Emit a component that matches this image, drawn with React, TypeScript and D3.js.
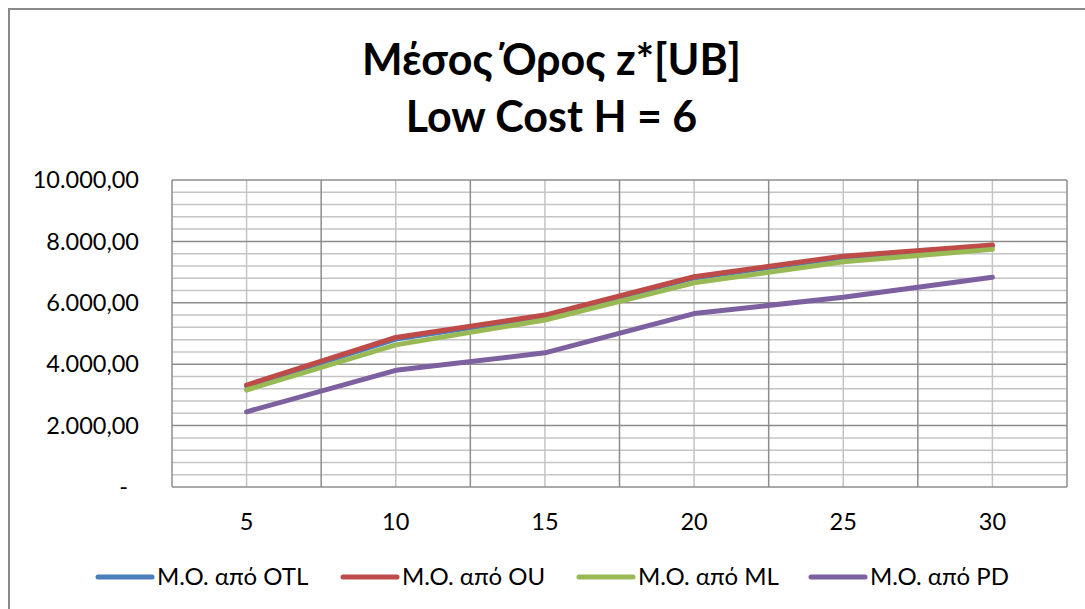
import React from "react";
import * as d3 from "d3";

const categories = [5, 10, 15, 20, 25, 30];
const seriesNames = ["M.O. από OTL", "M.O. από OU", "M.O. από ML", "M.O. από PD"];
const otl = [3280, 4820, 5560, 6810, 7480, 7850];
const ou = [3320, 4870, 5600, 6850, 7520, 7880];
const ml = [3160, 4630, 5440, 6650, 7340, 7740];
const pd = [2450, 3800, 4370, 5650, 6180, 6830];
const yTicks = [0, 2000, 4000, 6000, 8000, 10000];
const titleLines = ["Μέσος Όρος z*[UB]", "Low Cost H = 6"];

const colors = ["#4A7EBB", "#BE4B48", "#98B954", "#7D60A0"];
const seriesValues = [otl, ou, ml, pd];

const W = 1085;
const H = 609;
const plot = { left: 172, right: 1067, top: 180, bottom: 487 };
const FONT = "Lato, 'Open Sans', sans-serif";

const locale = d3.formatLocale({ decimal: ",", thousands: ".", grouping: [3], currency: ["", ""] });
const fmt = locale.format(",.2f");

export default function App() {
  const x = d3
    .scaleBand<number>()
    .domain(categories)
    .range([plot.left, plot.right])
    .paddingInner(0)
    .paddingOuter(0);
  const y = d3.scaleLinear().domain([0, 10000]).range([plot.bottom, plot.top]);
  const cx = (c: number) => (x(c) as number) + x.bandwidth() / 2;

  const minorY = d3.range(0, 10001, 400).filter((v) => v % 2000 !== 0);
  const line = d3
    .line<number>()
    .x((_, i) => cx(categories[i]))
    .y((v) => y(v));

  const legendX = [98, 343, 579, 811];

  return (
    <svg width={W} height={H} style={{ position: "absolute", left: 0, top: 0, display: "block" }}>
      <rect x={0} y={0} width={W} height={H} fill="#fff" />
      <rect x={9} y={9} width={W + 100} height={H + 100} fill="#fff" stroke="#898989" strokeWidth={2} />

      {titleLines.map((t, i) => (
        <text
          key={t}
          x={551.5}
          y={75 + i * 57}
          textAnchor="middle"
          fontFamily={FONT}
          fontWeight="bold"
          fontSize={43}
          fill="#000"
        >
          {t}
        </text>
      ))}

      {minorY.map((v) => (
        <line key={"mh" + v} x1={plot.left} x2={plot.right} y1={y(v)} y2={y(v)} stroke="#c4c4c4" strokeWidth={1.5} />
      ))}
      {categories.map((c) => (
        <line key={"mv" + c} x1={cx(c)} x2={cx(c)} y1={plot.top} y2={plot.bottom} stroke="#c4c4c4" strokeWidth={1.5} />
      ))}
      {yTicks.map((v) => (
        <line key={"Mh" + v} x1={plot.left} x2={plot.right} y1={y(v)} y2={y(v)} stroke="#8c8c8c" strokeWidth={1.5} />
      ))}
      {categories.map((c) => (
        <line key={"Mv" + c} x1={x(c)} x2={x(c)} y1={plot.top} y2={plot.bottom} stroke="#8c8c8c" strokeWidth={1.5} />
      ))}
      <line x1={plot.right} x2={plot.right} y1={plot.top} y2={plot.bottom} stroke="#8c8c8c" strokeWidth={1.5} />

      {yTicks.map((v) => (
        <text
          key={"yt" + v}
          x={v === 0 ? 128 : 139}
          y={y(v)}
          dy="0.35em"
          textAnchor="end"
          fontFamily={FONT}
          fontSize={23.5}
          fill="#000"
        >
          {v === 0 ? "-" : fmt(v)}
        </text>
      ))}

      {categories.map((c) => (
        <text key={"xt" + c} x={cx(c)} y={530} textAnchor="middle" fontFamily={FONT} fontSize={23.5} fill="#000">
          {c}
        </text>
      ))}

      {seriesValues.map((vals, i) => (
        <path
          key={seriesNames[i]}
          d={line(vals) || ""}
          fill="none"
          stroke={colors[i]}
          strokeWidth={5}
          strokeLinejoin="round"
          strokeLinecap="round"
        />
      ))}

      {seriesNames.map((n, i) => (
        <g key={"lg" + n}>
          <line
            x1={legendX[i]}
            x2={legendX[i] + 54}
            y1={577}
            y2={577}
            stroke={colors[i]}
            strokeWidth={5}
            strokeLinecap="round"
          />
          <text x={legendX[i] + 59} y={585} fontFamily={FONT} fontSize={24} fill="#000">
            {n}
          </text>
        </g>
      ))}
    </svg>
  );
}
